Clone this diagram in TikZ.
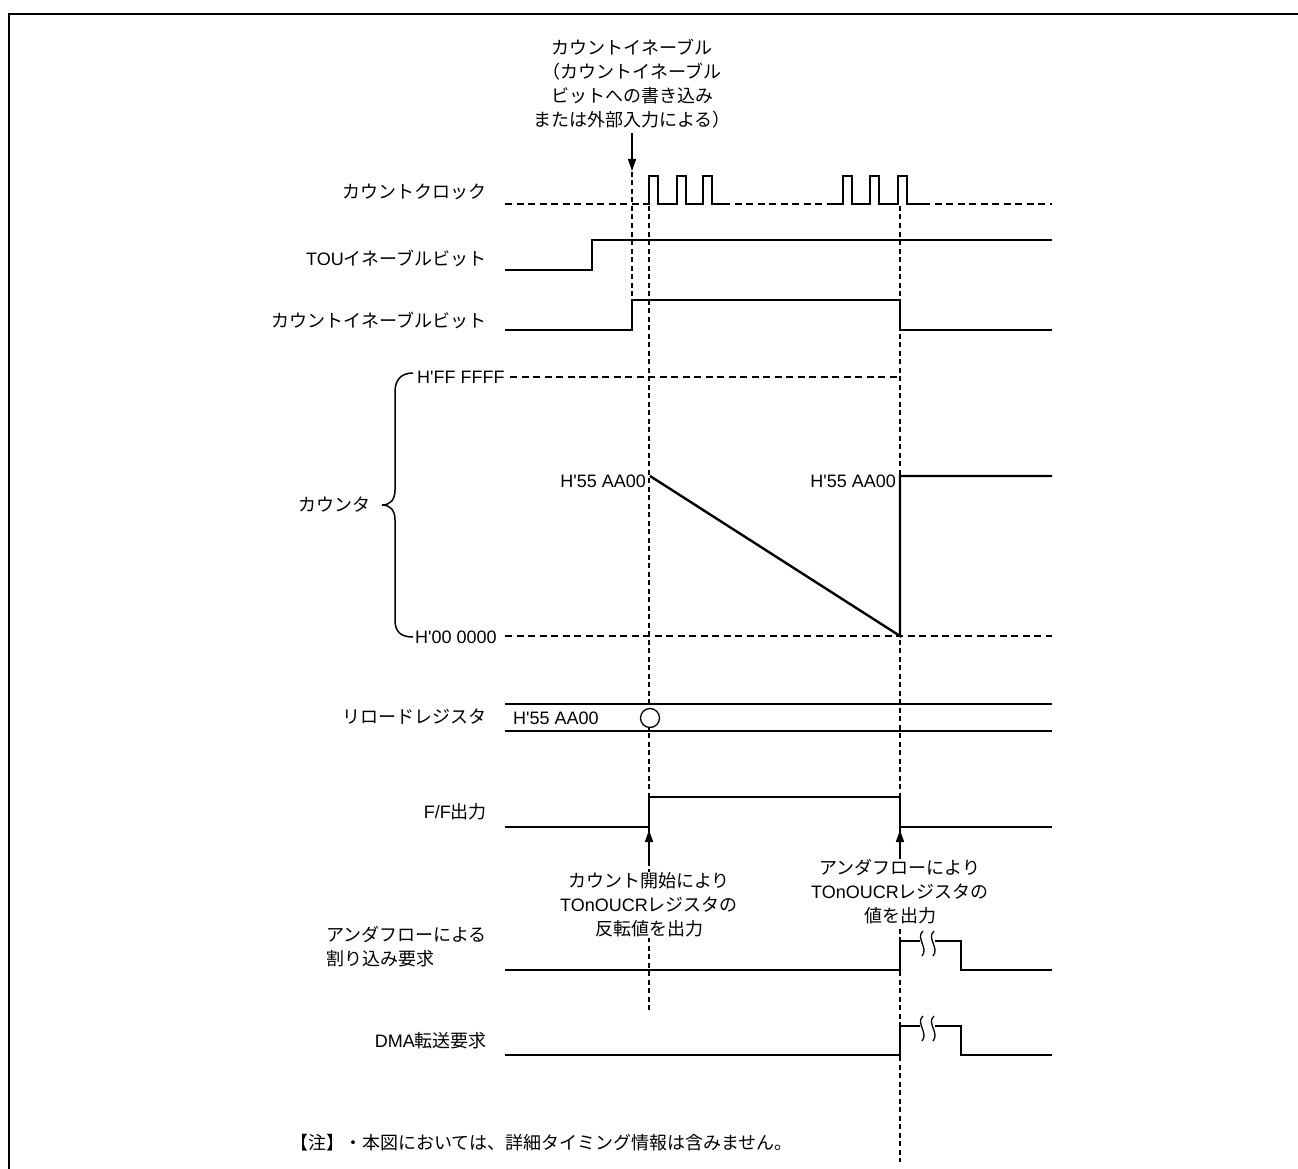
\documentclass[tikz,border=0pt]{standalone}
\usepackage{fontspec}
\setmainfont{Liberation Sans}[Ligatures=TeXOff]
\newfontfamily\jp{Noto Sans CJK JP}
\usetikzlibrary{arrows.meta}
\begin{document}
\begin{tikzpicture}[x=1pt,y=-1pt,
  sig/.style={line width=2.4pt,line join=miter},
  dsig/.style={line width=2.4pt,dash pattern=on 7pt off 4.5pt},
  vguide/.style={line width=1.3pt,dash pattern=on 5pt off 3.5pt},
  lbl/.style={font=\fontsize{18}{24}\selectfont,inner sep=0pt},
  arr/.style={line width=1.3pt,-{Triangle[length=12pt,width=8pt]}}]
\useasboundingbox (0,0) rectangle (1298,1169);
\draw[line width=2.6pt] (9,1170) -- (9,14) -- (1299,14);

% top annotation
\node[lbl,align=center] (ann) at (632,84) {\jp カウントイネーブル\\\jp （カウントイネーブル\\\jp ビットへの書き込み\\\jp または外部入力による）};
\coordinate (annS) at (632,133);
\coordinate (annT) at (632,171);
\draw[arr] (annS) -- (annT);

% guides
\coordinate (g1a) at (632,172); \coordinate (g1b) at (632,300);
\coordinate (g2a) at (649,206); \coordinate (g2b) at (649,1012);
\coordinate (g3a) at (900,206); \coordinate (g3b) at (900,1162);
\draw[vguide] (g1a) -- (g1b);
\draw[vguide] (g2a) -- (g2b);
\draw[vguide] (g3a) -- (g3b);

% labels
\node[lbl,anchor=east] (lclk) at (487,192) {\jp カウントクロック};
\node[lbl,anchor=east] (ltou) at (487,258) {TOU{\jp イネーブルビット}};
\node[lbl,anchor=east] (lcen) at (487,320) {\jp カウントイネーブルビット};
\node[lbl,anchor=east] (lcnt) at (371,505) {\jp カウンタ};
\node[lbl,anchor=east] (lrel) at (487,717) {\jp リロードレジスタ};
\node[lbl,anchor=east] (lff) at (487,812) {F/F{\jp 出力}};
\node[lbl,anchor=east,align=left] (lint) at (487,947) {\jp アンダフローによる\\\jp 割り込み要求};
\node[lbl,anchor=east] (ldma) at (487,1041) {DMA{\jp 転送要求}};

% clock
\draw[dsig] (505,204) -- (645,204);
\draw[sig] (645,204) -- (649,204) -- (649,176) -- (658,176) -- (658,204) -- (677,204) -- (677,176) -- (686,176) -- (686,204) -- (703,204) -- (703,176) -- (712,176) -- (712,204) -- (723,204);
\draw[dsig] (723,204) -- (832,204);
\draw[sig] (832,204) -- (843,204) -- (843,176) -- (852,176) -- (852,204) -- (870,204) -- (870,176) -- (879,176) -- (879,204) -- (898,204) -- (898,176) -- (907,176) -- (907,204) -- (923,204);
\draw[dsig] (923,204) -- (1052,204);

% TOU enable
\draw[sig] (505,270) -- (592,270) -- (592,240) -- (1052,240);
% count enable bit
\draw[sig] (505,330) -- (632,330) -- (632,300) -- (900,300) -- (900,330) -- (1052,330);

% counter
\draw[line width=1.5pt] (413,373) .. controls (401,373) and (395,380) .. (395,392) -- (395,490) .. controls (395,500) and (390,505) .. (382,505) .. controls (390,505) and (395,510) .. (395,520) -- (395,620) .. controls (395,632) and (401,637) .. (413,637);
\node[lbl,anchor=west] (lff1) at (417,377) {H'FF FFFF};
\node[lbl,anchor=west] (l001) at (415,637) {H'00 0000};
\draw[dsig] (510,377) -- (900,377);
\draw[dsig] (505,636) -- (1052,636);
\node[lbl,anchor=east] (v1) at (646,481) {H'55 AA00};
\node[lbl,anchor=east] (v2) at (896,481) {H'55 AA00};
\draw[sig] (650,476) -- (900,636) -- (900,476) -- (1052,476);

% reload register
\draw[sig] (505,704) -- (1052,704);
\draw[sig] (505,731) -- (1052,731);
\node[lbl,anchor=west] (rv) at (513,718) {H'55 AA00};
\node[draw,circle,line width=1.3pt,minimum size=19pt,inner sep=0pt,fill=white] (rc) at (650,718) {};

% F/F output
\draw[sig] (505,827) -- (649,827) -- (649,797) -- (900,797) -- (900,827) -- (1052,827);
\coordinate (a1s) at (649,864); \coordinate (a1t) at (649,830);
\coordinate (a2s) at (900,862); \coordinate (a2t) at (900,830);
\draw[arr,line width=1.6pt] (a1s) -- (a1t);
\draw[arr,line width=1.6pt] (a2s) -- (a2t);
\node[lbl,align=center,fill=white,inner sep=1pt] (t1) at (649,905) {\jp カウント開始により\\TOnOUCR{\jp レジスタの}\\\jp 反転値を出力};
\node[lbl,align=center,fill=white,inner sep=1pt] (t2) at (900,892) {\jp アンダフローにより\\TOnOUCR{\jp レジスタの}\\\jp 値を出力};

% interrupt request
\draw[sig] (505,970) -- (900,970) -- (900,941) -- (920,941);
\draw[sig] (935,941) -- (961,941) -- (961,970) -- (1052,970);
\draw[line width=1.3pt] (923,931) .. controls (915,938) and (929,948) .. (922,956);
\draw[line width=1.3pt] (934,931) .. controls (926,938) and (940,948) .. (933,956);

% DMA request
\draw[sig] (505,1055) -- (900,1055) -- (900,1026) -- (920,1026);
\draw[sig] (935,1026) -- (961,1026) -- (961,1055) -- (1052,1055);
\draw[line width=1.3pt] (923,1016) .. controls (915,1023) and (929,1033) .. (922,1041);
\draw[line width=1.3pt] (934,1016) .. controls (926,1023) and (940,1033) .. (933,1041);

% note
\node[lbl,anchor=west] (note) at (290,1143) {\jp 【注】・本図においては、詳細タイミング情報は含みません。};
\end{tikzpicture}
\end{document}
